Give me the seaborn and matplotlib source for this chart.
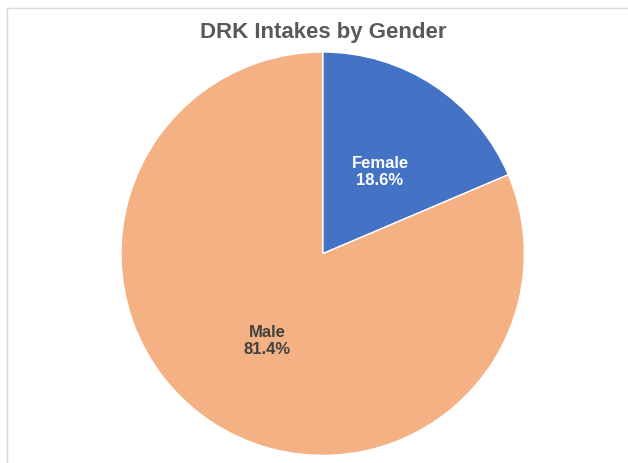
import matplotlib
matplotlib.use("Agg")
import matplotlib.pyplot as plt
import seaborn as sns
from matplotlib.lines import Line2D

# data
labels = ["Female", "Male"]
shares = [18.6, 81.4]
colors = ["#4472C4", "#F4B183"]
label_colors = ["white", "#404040"]

sns.set_theme(style="white")
plt.rcParams['font.family'] = ['Liberation Sans', 'DejaVu Sans']

W, H = 628, 463
fig = plt.figure(figsize=(W / 100, H / 100), dpi=100)

# pie placement (pixels)
cx, cy, r = 322.7, 253.7, 201.7
ax = fig.add_axes([(cx - r) / W, (H - cy - r) / H, 2 * r / W, 2 * r / H])

wedges, texts = ax.pie(shares, colors=colors, startangle=90, counterclock=False,
                       radius=1, wedgeprops=dict(edgecolor="white", linewidth=1))
ax.set_xlim(-1, 1)
ax.set_ylim(-1, 1)
ax.set_aspect("equal")
ax.axis("off")

# data labels inside slices
label_pos = [(380, 172), (267, 341)]
for lab, val, (px, py), c in zip(labels, shares, label_pos, label_colors):
    x = (px - cx) / r
    y = (cy - py) / r
    ax.text(x, y, f"{lab}\n{val}%", ha="center", va="center", color=c,
            fontsize=12, fontweight="bold", linespacing=1.15)

fig.text(323 / W, 1 - 32.5 / H, "DRK Intakes by Gender", ha="center", va="center",
         fontsize=16, fontweight="bold", color="#595959")

# chart frame (left and top edges visible)
fig.add_artist(Line2D([6.5 / W, 6.5 / W], [0, 1 - 7.5 / H], transform=fig.transFigure,
                      color="#D9D9D9", linewidth=1))
fig.add_artist(Line2D([6.5 / W, 1], [1 - 7.5 / H, 1 - 7.5 / H], transform=fig.transFigure,
                      color="#D9D9D9", linewidth=1))

fig.savefig("out.png", dpi=100)
